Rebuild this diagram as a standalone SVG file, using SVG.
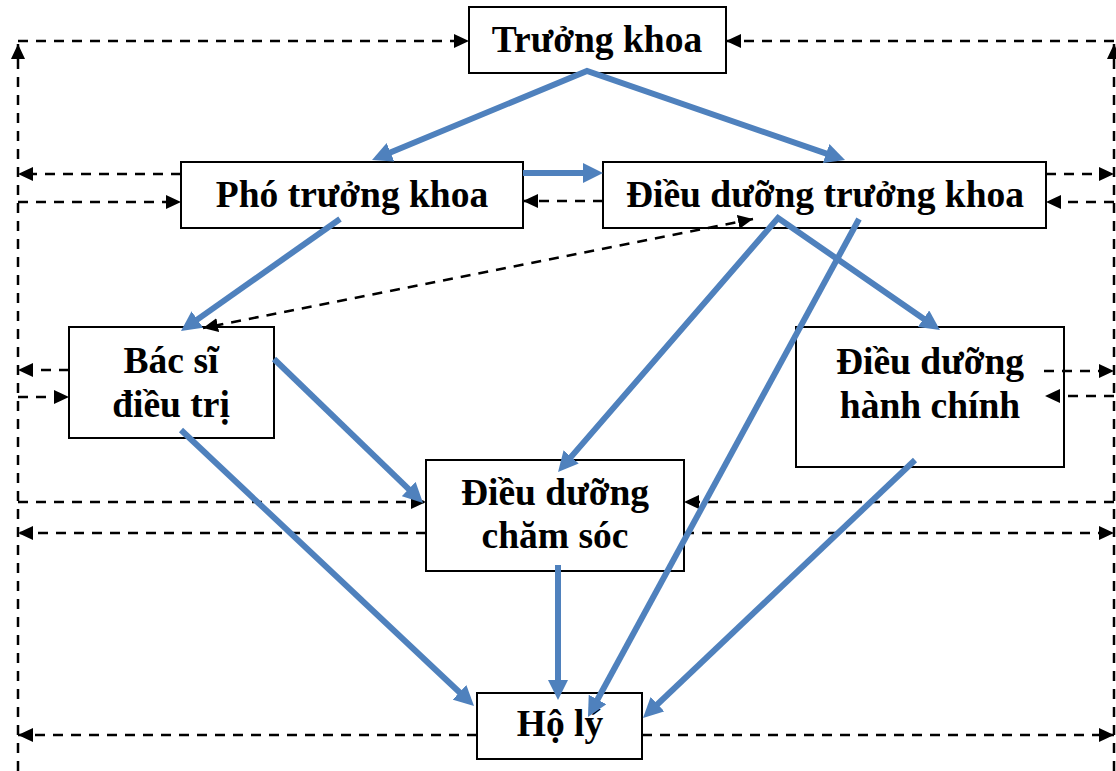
<svg xmlns="http://www.w3.org/2000/svg" width="1116" height="771" viewBox="0 0 1116 771">
<style>
.box{fill:#fff;stroke:#000;stroke-width:2}
.t{font-family:"Liberation Serif","Times New Roman",serif;font-weight:bold;font-size:37.5px;fill:#000;text-anchor:middle}
.d{fill:none;stroke:#000;stroke-width:2.5;stroke-dasharray:10 8;marker-end:url(#ka)}
.dd{marker-start:url(#ka)}
.b{fill:none;stroke:#4F81BD;stroke-width:6;stroke-linejoin:miter;marker-end:url(#ba)}
.bb{marker-start:url(#ba)}
</style>
<defs>
<marker id="ka" markerUnits="userSpaceOnUse" viewBox="0 0 15 14" markerWidth="15" markerHeight="14" refX="15" refY="7" orient="auto-start-reverse">
<path d="M0,0 L15,7 L0,14 z" fill="#000"/>
</marker>
<marker id="ba" markerUnits="userSpaceOnUse" viewBox="0 0 20 20" markerWidth="20" markerHeight="20" refX="8" refY="10" orient="auto-start-reverse">
<path d="M0,0 L20,10 L0,20 z" fill="#4F81BD"/>
</marker>
</defs>
<rect width="1116" height="771" fill="#fff"/>
<g id="truong-khoa"><rect class="box" x="469" y="7" width="257" height="66"/><text class="t" x="597" y="52">Trưởng khoa</text></g>
<g id="pho-truong-khoa"><rect class="box" x="181" y="162" width="342" height="66"/><text class="t" x="352" y="207">Phó trưởng khoa</text></g>
<g id="dieu-duong-truong-khoa"><rect class="box" x="603" y="162" width="443" height="66"/><text class="t" x="825" y="207">Điều dưỡng trưởng khoa</text></g>
<g id="bac-si"><rect class="box" x="69" y="327" width="205" height="111"/><text class="t" x="171" y="373">Bác sĩ</text><text class="t" x="171" y="417">điều trị</text></g>
<g id="dieu-duong-hanh-chinh"><rect class="box" x="796" y="327" width="268" height="140"/><text class="t" x="930" y="374">Điều dưỡng</text><text class="t" x="930" y="418">hành chính</text></g>
<g id="dieu-duong-cham-soc"><rect class="box" x="426" y="460" width="258" height="111"/><text class="t" x="555" y="505">Điều dưỡng</text><text class="t" x="555" y="548">chăm sóc</text></g>
<g id="ho-ly"><rect class="box" x="477" y="693" width="165" height="66"/><text class="t" x="560" y="736">Hộ lý</text></g>
<g id="connectors">
<path class="d" d="M18,771 L18,44"/>
<path class="d" d="M18,41 L469,41"/>
<path class="d" d="M1114,771 L1114,44"/>
<path class="d" d="M1114,41 L726,41"/>
<path class="d" d="M181,174 L18,174"/>
<path class="d" d="M18,202 L181,202"/>
<path class="d" d="M1046,174 L1114,174"/>
<path class="d" d="M1114,202 L1046,202"/>
<path class="d" d="M603,201 L523,201"/>
<path class="d" d="M69,370 L18,370"/>
<path class="d" d="M18,397 L69,397"/>
<path class="d" d="M1044,371 L1114,371"/>
<path class="d" d="M1114,396 L1045,396"/>
<path class="d" d="M18,502 L426,502"/>
<path class="d" d="M1114,502 L684,502"/>
<path class="d" d="M426,533 L18,533"/>
<path class="d" d="M684,533 L1114,533"/>
<path class="d" d="M477,735 L18,735"/>
<path class="d" d="M642,735 L1114,735"/>
<path class="d dd" d="M753,219 L203,328"/>
<path class="b bb" d="M383.1,155.4 L587,71 L833.7,156.1"/>
<path class="b" d="M523,173 L591,173"/>
<path class="b" d="M340,219 L190.8,324.1"/>
<path class="b bb" d="M565.9,462.9 L778,218 L930.1,323.2"/>
<path class="b" d="M859,219 L593.7,706.5"/>
<path class="b" d="M274,359 L414.4,494.6"/>
<path class="b" d="M181,430 L465.3,697.8"/>
<path class="b" d="M558,565 L558,688"/>
<path class="b" d="M915,460 L651.7,709.7"/>
</g>
</svg>
